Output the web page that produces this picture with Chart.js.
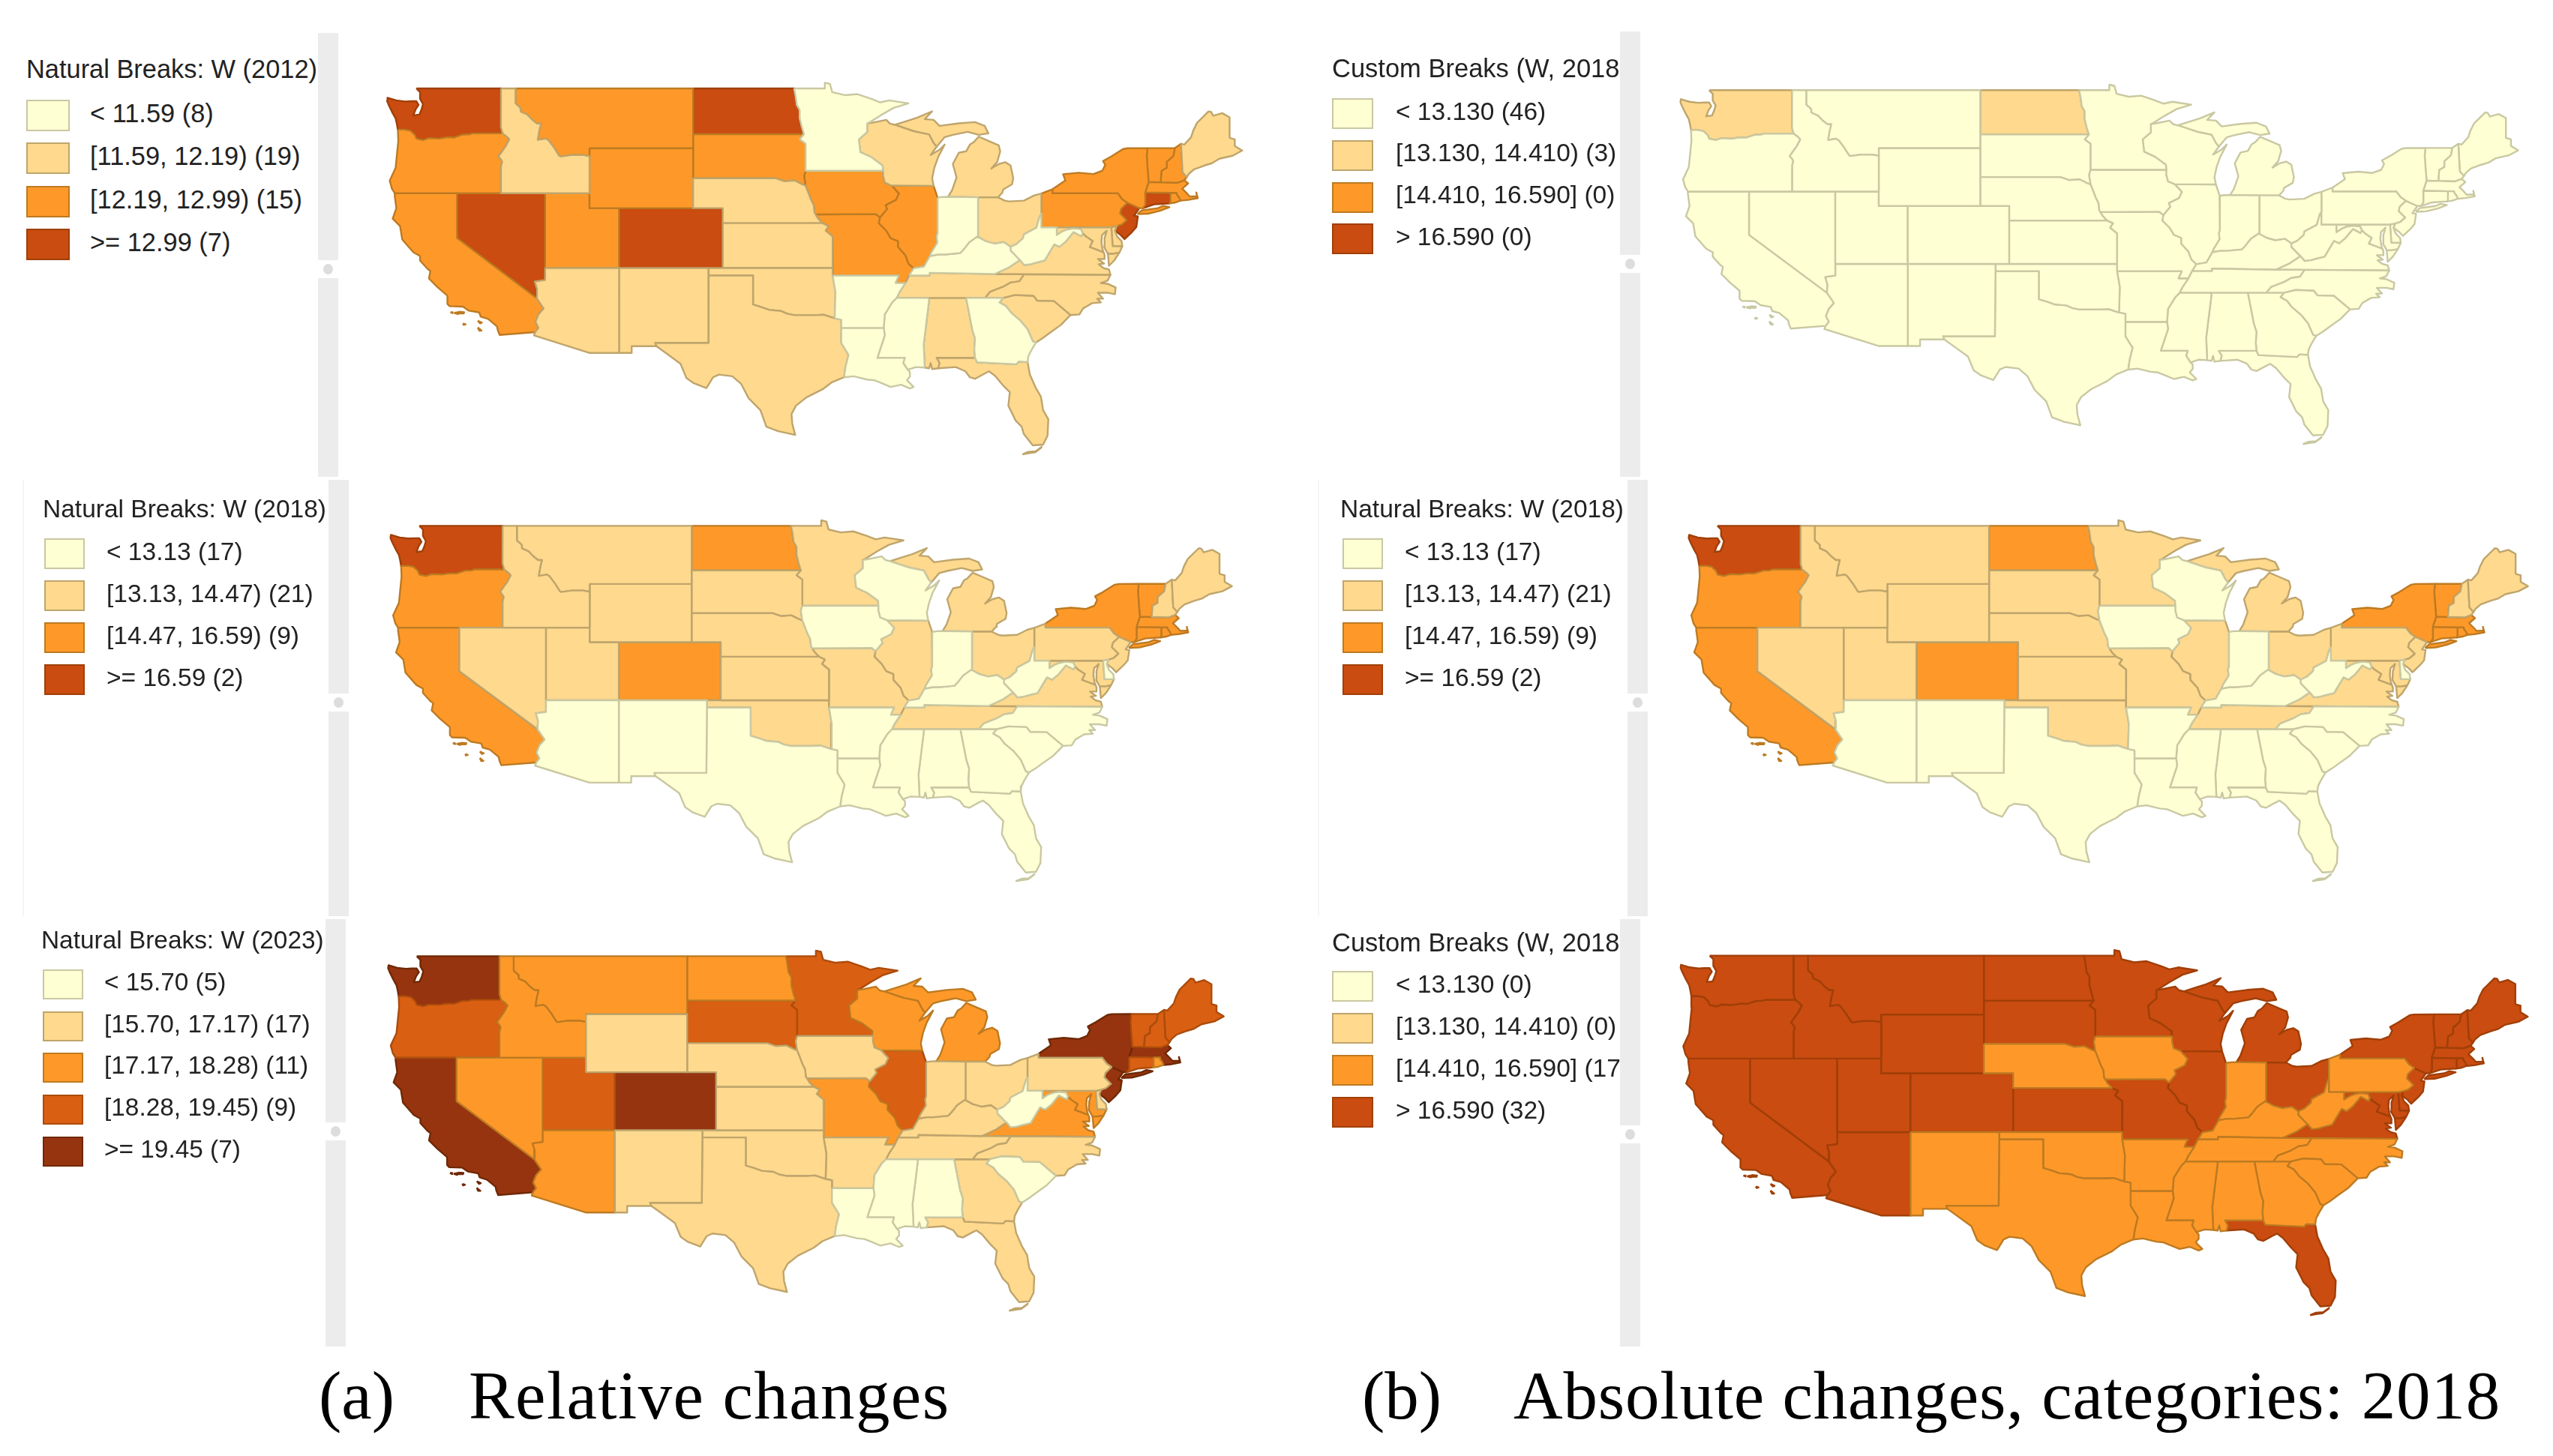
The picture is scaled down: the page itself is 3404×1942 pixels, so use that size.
<!DOCTYPE html>
<html>
<head>
  <title>Natural and custom breaks of W by state</title>
  <script src="https://cdn.jsdelivr.net/npm/chart.js@4.4.2/dist/chart.umd.min.js"></script>
  <style>
    html, body { margin: 0; padding: 0; background: #fff; }
    body { width: 3404px; height: 1942px; position: relative; overflow: hidden; font-family: "Liberation Sans", Arial, sans-serif; color: #222; }
    canvas { position: absolute; }
    .box { position: absolute; overflow: hidden; white-space: nowrap; height: 700px; }
    .title, .label { position: absolute; line-height: 40px; }
    .swatch { position: absolute; box-sizing: border-box; border: 2px solid; }
    .side { position: absolute; background: #ececec; width: 27px; }
    .knob { position: absolute; left: 0; width: 27px; height: 24px; background: #fff; }
    .knob i { position: absolute; left: 7px; top: 5px; width: 13px; height: 14px; border-radius: 50%; background: #ddd; }
    .rule { position: absolute; width: 2px; background: #f5f5f5; }
    .caption { position: absolute; font-family: "Liberation Serif", serif; font-size: 91px; line-height: 100px; color: #000; white-space: nowrap; }
  </style>
</head>
<body>
<script>
// state outlines, lon/lat
const WA = [[-122.75,49],[-117.03,49],[-117.04,46.42],[-116.92,46],[-118.98,46],[-119.15,45.93],[-119.6,45.92],[-120.2,45.72],[-120.65,45.74],[-121.2,45.65],[-121.9,45.68],[-122.3,45.55],[-122.75,45.65],[-122.85,45.9],[-123.15,46.18],[-123.55,46.25],[-124,46.25],[-124.07,46.65],[-124.15,47],[-124.35,47.35],[-124.62,47.9],[-124.73,48.17],[-124.7,48.38],[-124.1,48.2],[-123.5,48.13],[-123.1,48.15],[-122.75,48.15],[-122.6,47.9],[-122.8,47.6],[-122.95,47.2],[-122.55,47.25],[-122.4,47.6],[-122.3,47.95],[-122.5,48.3],[-122.5,48.75],[-122.75,49]];
const OR = [[-124,46.25],[-123.55,46.25],[-123.15,46.18],[-122.85,45.9],[-122.75,45.65],[-122.3,45.55],[-121.9,45.68],[-121.2,45.65],[-120.65,45.74],[-120.2,45.72],[-119.6,45.92],[-119.15,45.93],[-118.98,46],[-116.92,46],[-116.6,45.75],[-116.47,45.6],[-116.7,45.15],[-116.85,44.95],[-117.2,44.45],[-117.03,44.25],[-116.95,44.1],[-117.03,43.8],[-117.03,42],[-124.21,42],[-124.4,42.3],[-124.55,42.84],[-124.15,43.7],[-124.07,44.5],[-123.97,45.5],[-124,46.25]];
const CA = [[-124.21,42],[-120,42],[-120,39],[-114.63,35],[-114.15,34.3],[-114.5,33.9],[-114.7,33.4],[-114.5,33],[-114.72,32.72],[-117.12,32.53],[-117.25,32.85],[-117.3,33.1],[-117.9,33.6],[-118.4,33.75],[-118.5,34.03],[-119.2,34.15],[-119.6,34.42],[-120.5,34.45],[-120.65,34.6],[-120.65,35.15],[-121.3,35.7],[-121.9,36.3],[-121.8,36.8],[-122,36.95],[-122.5,37.5],[-122.5,37.8],[-122.95,38.05],[-123.7,38.9],[-123.85,39.8],[-124.35,40.3],[-124.1,41],[-124.2,41.75],[-124.21,42]];
const CA_MIGUEL = [[-120.45,34.05],[-120.3,34.05],[-120.3,33.98],[-120.45,34.05]];
const CA_ROSA = [[-120.2,34],[-119.95,34.05],[-119.95,33.92],[-120.2,34]];
const CA_CRUZ = [[-119.9,34.08],[-119.52,34.05],[-119.55,33.97],[-119.9,33.97],[-119.9,34.08]];
const CA_NICOLAS = [[-119.6,33.3],[-119.42,33.24],[-119.55,33.2],[-119.6,33.3]];
const CA_CATALINA = [[-118.6,33.48],[-118.32,33.35],[-118.45,33.3],[-118.6,33.48]];
const CA_CLEMENTE = [[-118.6,33.03],[-118.35,32.82],[-118.5,32.82],[-118.6,33.03]];
const ID = [[-117.03,49],[-116.05,49],[-116.05,48],[-115.72,47.7],[-115.7,47.45],[-115.25,47.25],[-114.95,46.93],[-114.6,46.65],[-114.33,46.65],[-114.45,46.15],[-114.55,45.56],[-114,45.65],[-113.8,45.52],[-113.45,45.05],[-113.1,44.5],[-113,44.45],[-112.3,44.55],[-111.5,44.55],[-111.05,44.47],[-111.05,42],[-117.03,42],[-117.03,43.8],[-116.95,44.1],[-117.03,44.25],[-117.2,44.45],[-116.85,44.95],[-116.7,45.15],[-116.47,45.6],[-116.6,45.75],[-116.92,46],[-117.04,46.42],[-117.03,49]];
const MT = [[-116.05,49],[-104.05,49],[-104.05,45],[-111.05,45],[-111.05,44.47],[-111.5,44.55],[-112.3,44.55],[-113,44.45],[-113.1,44.5],[-113.45,45.05],[-113.8,45.52],[-114,45.65],[-114.55,45.56],[-114.45,46.15],[-114.33,46.65],[-114.6,46.65],[-114.95,46.93],[-115.25,47.25],[-115.7,47.45],[-115.72,47.7],[-116.05,48],[-116.05,49]];
const WY = [[-111.05,45],[-104.05,45],[-104.05,41],[-111.05,41],[-111.05,45]];
const ND = [[-104.05,49],[-97.23,49],[-97.13,48.5],[-97.05,47.9],[-96.85,47.55],[-96.85,47],[-96.7,46.4],[-96.56,45.94],[-104.05,45.94],[-104.05,49]];
const SD = [[-104.05,45.94],[-96.56,45.94],[-96.85,45.6],[-96.45,45.3],[-96.45,43.5],[-96.55,43.15],[-96.45,42.5],[-96.7,42.6],[-97.2,42.85],[-97.9,42.8],[-98.5,43],[-104.05,43],[-104.05,45.94]];
const NE = [[-104.05,43],[-98.5,43],[-97.9,42.8],[-97.2,42.85],[-96.7,42.6],[-96.45,42.5],[-96.25,42],[-96.1,41.6],[-95.9,41.2],[-95.85,40.7],[-95.77,40.58],[-95.6,40.3],[-95.31,40],[-102.05,40],[-102.05,41],[-104.05,41],[-104.05,43]];
const KS = [[-102.05,40],[-95.31,40],[-94.9,39.8],[-95.1,39.5],[-94.61,39.1],[-94.62,37],[-102.05,37],[-102.05,40]];
const CO = [[-109.05,41],[-102.05,41],[-102.05,37],[-109.05,37],[-109.05,41]];
const UT = [[-114.05,42],[-111.05,42],[-111.05,41],[-109.05,41],[-109.05,37],[-114.05,37],[-114.05,42]];
const NV = [[-120,42],[-114.05,42],[-114.05,36.2],[-114.75,36.1],[-114.6,35.6],[-114.63,35],[-120,39],[-120,42]];
const AZ = [[-114.05,37],[-109.05,37],[-109.05,31.33],[-111.07,31.33],[-114.8,32.5],[-114.72,32.72],[-114.5,33],[-114.7,33.4],[-114.5,33.9],[-114.15,34.3],[-114.63,35],[-114.6,35.6],[-114.75,36.1],[-114.05,36.2],[-114.05,37]];
const NM = [[-109.05,37],[-103,37],[-103,36.5],[-103.04,32],[-106.62,32],[-106.53,31.78],[-108.2,31.78],[-108.2,31.33],[-109.05,31.33],[-109.05,37]];
const OK = [[-103,37],[-94.62,37],[-94.62,36.5],[-94.43,35.4],[-94.48,33.64],[-95.2,33.88],[-95.8,33.85],[-96.6,33.85],[-97.2,33.85],[-97.7,33.95],[-98.1,34.13],[-98.9,34.2],[-99.4,34.38],[-100,34.56],[-100,36.5],[-103,36.5],[-103,37]];
const TX = [[-103,36.5],[-100,36.5],[-100,34.56],[-99.4,34.38],[-98.9,34.2],[-98.1,34.13],[-97.7,33.95],[-97.2,33.85],[-96.6,33.85],[-95.8,33.85],[-95.2,33.88],[-94.48,33.64],[-94.04,33.55],[-94.04,33],[-94.04,32],[-93.55,31.2],[-93.75,30.4],[-93.85,29.7],[-94.7,29.35],[-95.3,28.9],[-96.4,28.35],[-97.1,27.8],[-97.4,27.25],[-97.35,26.6],[-97.15,25.85],[-97.6,25.95],[-98.3,26.1],[-99.1,26.4],[-99.5,27.5],[-100.3,28.3],[-100.8,29.25],[-101.4,29.77],[-102.3,29.88],[-102.7,29.7],[-103.15,28.98],[-104,29.3],[-104.5,29.65],[-104.9,30.6],[-106,31.4],[-106.53,31.78],[-106.62,32],[-103.04,32],[-103,36.5]];
const MN = [[-97.23,49],[-95.15,49],[-95.15,49.38],[-94.8,49.3],[-94.65,48.75],[-93.8,48.55],[-92.95,48.62],[-92,48.3],[-91.4,48.07],[-90.8,48.2],[-89.5,48],[-90.5,47.7],[-91.3,47.25],[-92.1,46.75],[-92.29,46.66],[-92.29,46.08],[-92.85,45.6],[-92.75,44.75],[-92,44.4],[-91.25,43.85],[-91.22,43.5],[-96.45,43.5],[-96.45,45.3],[-96.85,45.6],[-96.56,45.94],[-96.7,46.4],[-96.85,47],[-96.85,47.55],[-97.05,47.9],[-97.13,48.5],[-97.23,49]];
const WI = [[-92.29,46.66],[-92,46.7],[-91,46.9],[-90.75,46.65],[-90.42,46.57],[-89.1,46.13],[-88.1,45.92],[-87.8,45.35],[-87.6,45.1],[-88,44.55],[-87.4,44.9],[-87.05,45.25],[-87.5,44.4],[-87.75,43.7],[-87.9,43],[-87.8,42.49],[-90.64,42.51],[-91.1,42.7],[-91.2,43.1],[-91.22,43.5],[-91.25,43.85],[-92,44.4],[-92.75,44.75],[-92.85,45.6],[-92.29,46.08],[-92.29,46.66]];
const IA = [[-96.45,43.5],[-91.22,43.5],[-91.2,43.1],[-91.1,42.7],[-90.64,42.51],[-90.15,41.98],[-90.35,41.55],[-91.05,41.2],[-90.95,40.95],[-91.42,40.38],[-91.7,40.6],[-95.77,40.58],[-95.85,40.7],[-95.9,41.2],[-96.1,41.6],[-96.25,42],[-96.45,42.5],[-96.55,43.15],[-96.45,43.5]];
const MO = [[-95.77,40.58],[-91.7,40.6],[-91.42,40.38],[-91.5,40],[-91,39.5],[-90.7,39],[-90.2,38.8],[-90.2,38.4],[-89.7,37.85],[-89.5,37.3],[-89.15,36.98],[-89.45,36.5],[-89.7,36],[-90.37,36],[-90.15,36.5],[-94.62,36.5],[-94.62,37],[-94.61,39.1],[-95.1,39.5],[-94.9,39.8],[-95.31,40],[-95.6,40.3],[-95.77,40.58]];
const AR = [[-94.62,36.5],[-90.15,36.5],[-90.37,36],[-89.7,36],[-90.1,35.4],[-90.3,35],[-90.6,34.7],[-91.1,33.9],[-91.17,33],[-94.04,33],[-94.04,33.55],[-94.48,33.64],[-94.43,35.4],[-94.62,36.5]];
const LA = [[-94.04,33],[-91.17,33],[-91.1,32.5],[-91.6,31],[-89.75,31],[-89.85,30.65],[-89.55,30.2],[-89.4,30.05],[-89.4,29.75],[-89.6,29.5],[-89.15,29.05],[-89.4,28.95],[-90,29.2],[-90.7,29.05],[-91.3,29.3],[-91.8,29.5],[-92.3,29.55],[-93.2,29.77],[-93.85,29.7],[-93.75,30.4],[-93.55,31.2],[-94.04,32],[-94.04,33]];
const MS = [[-90.3,35],[-88.2,35],[-88.1,34.9],[-88.47,31.9],[-88.4,30.35],[-89,30.38],[-89.55,30.2],[-89.85,30.65],[-89.75,31],[-91.6,31],[-91.1,32.5],[-91.17,33],[-91.1,33.9],[-90.6,34.7],[-90.3,35]];
const AL = [[-88.2,35],[-85.6,35],[-85.18,32.85],[-85,32.3],[-85.05,31.55],[-85,31],[-87.6,31],[-87.4,30.65],[-87.5,30.3],[-87.9,30.25],[-88,30.65],[-88.1,30.3],[-88.4,30.35],[-88.47,31.9],[-88.1,34.9],[-88.2,35]];
const GA = [[-85.6,35],[-83.11,35],[-83.35,34.7],[-82.9,34.45],[-82.55,34],[-81.95,33.5],[-81.45,32.9],[-81.1,32.1],[-80.88,32.03],[-81.2,31.5],[-81.4,31.1],[-81.45,30.72],[-82.05,30.75],[-82.2,30.57],[-84.86,30.7],[-85,31],[-85.05,31.55],[-85,32.3],[-85.18,32.85],[-85.6,35]];
const FL = [[-87.6,31],[-85,31],[-84.86,30.7],[-82.2,30.57],[-82.05,30.75],[-81.45,30.72],[-81.3,29.9],[-80.9,29],[-80.55,28.4],[-80.4,27.5],[-80.05,26.9],[-80.1,25.8],[-80.4,25.2],[-81.1,25.15],[-81.7,25.9],[-81.85,26.4],[-82.25,26.8],[-82.75,27.8],[-82.65,28.7],[-83.1,29.15],[-83.65,29.8],[-84.05,30.1],[-84.35,29.95],[-85,29.6],[-85.35,29.7],[-85.65,30.1],[-86.3,30.38],[-87.5,30.3],[-87.4,30.65],[-87.6,31]];
const FL_KEYS = [[-81.8,24.55],[-81.4,24.72],[-80.9,24.75],[-80.5,25.05],[-80.55,24.98],[-80.95,24.68],[-81.4,24.62],[-81.8,24.55]];
const SC = [[-83.11,35],[-82.3,35.2],[-81.05,35.15],[-80.8,34.82],[-79.67,34.8],[-78.55,33.86],[-79.2,33.2],[-79.9,32.7],[-80.45,32.3],[-80.88,32.03],[-81.1,32.1],[-81.45,32.9],[-81.95,33.5],[-82.55,34],[-82.9,34.45],[-83.35,34.7],[-83.11,35]];
const NC = [[-84.32,35],[-83.11,35],[-82.3,35.2],[-81.05,35.15],[-80.8,34.82],[-79.67,34.8],[-78.55,33.86],[-77.95,33.9],[-77.7,34.3],[-77.1,34.65],[-76.5,34.7],[-76.75,34.95],[-76.35,34.95],[-76.7,35.35],[-76.05,35.35],[-75.55,35.25],[-75.5,35.7],[-76.05,35.95],[-76.5,36],[-76.05,36.15],[-75.85,36.55],[-81.68,36.59],[-82,36.12],[-82.6,36.03],[-83.1,35.75],[-84,35.4],[-84.32,35]];
const TN = [[-90.3,35],[-88.2,35],[-85.6,35],[-84.32,35],[-84,35.4],[-83.1,35.75],[-82.6,36.03],[-82,36.12],[-81.68,36.59],[-83.68,36.6],[-88.07,36.68],[-88.07,36.5],[-89.45,36.5],[-89.7,36],[-90.1,35.4],[-90.3,35]];
const KY = [[-89.45,36.5],[-89.15,36.98],[-88.45,37.1],[-88.05,37.8],[-87.5,37.9],[-87.05,37.9],[-86.5,37.95],[-86,38],[-85.75,38.27],[-85.4,38.72],[-84.85,39.1],[-84.3,38.8],[-83.7,38.63],[-83.05,38.73],[-82.6,38.42],[-82.6,38.17],[-82,37.55],[-81.97,37.54],[-82.7,37.05],[-83.68,36.6],[-88.07,36.68],[-88.07,36.5],[-89.45,36.5]];
const IL = [[-90.64,42.51],[-87.8,42.49],[-87.55,41.75],[-87.53,41.7],[-87.53,39.35],[-87.6,39.1],[-87.55,38.7],[-87.95,38.05],[-88.05,37.8],[-88.45,37.1],[-89.15,36.98],[-89.5,37.3],[-89.7,37.85],[-90.2,38.4],[-90.2,38.8],[-90.7,39],[-91,39.5],[-91.5,40],[-91.42,40.38],[-90.95,40.95],[-91.05,41.2],[-90.35,41.55],[-90.15,41.98],[-90.64,42.51]];
const IN = [[-87.53,41.7],[-87.2,41.75],[-86.82,41.76],[-84.8,41.73],[-84.8,39.1],[-84.85,39.1],[-85.4,38.72],[-85.75,38.27],[-86,38],[-86.5,37.95],[-87.05,37.9],[-87.5,37.9],[-88.05,37.8],[-87.95,38.05],[-87.55,38.7],[-87.6,39.1],[-87.53,39.35],[-87.53,41.7]];
const OH = [[-84.8,41.73],[-83.45,41.73],[-83,41.5],[-82.7,41.45],[-81.7,41.5],[-81,41.85],[-80.52,41.98],[-80.52,40.64],[-80.65,40.4],[-80.85,39.7],[-81.7,39.25],[-81.75,39],[-82.2,38.6],[-82.6,38.42],[-83.05,38.73],[-83.7,38.63],[-84.3,38.8],[-84.85,39.1],[-84.8,39.1],[-84.8,41.73]];
const MI_LOWER = [[-86.82,41.76],[-84.8,41.73],[-83.45,41.73],[-83.15,42.05],[-83.1,42.25],[-82.5,42.6],[-82.42,43],[-82.6,43.85],[-82.95,44.07],[-83.4,43.95],[-83.9,43.65],[-83.5,44.1],[-83.3,44.8],[-83.4,45.2],[-84.1,45.5],[-84.75,45.78],[-85.1,45.4],[-85.35,45.25],[-85.6,44.8],[-86.1,44.7],[-86.5,43.95],[-86.25,43.05],[-86.55,42.2],[-86.82,41.76]];
const MI_UPPER = [[-90.42,46.57],[-89.1,46.13],[-88.1,45.92],[-87.8,45.35],[-87.6,45.1],[-87.05,45.75],[-86.5,45.9],[-85.5,46.1],[-84.75,45.9],[-84.1,46],[-84.35,46.5],[-85,46.75],[-86.1,46.67],[-87.4,46.5],[-87.8,46.9],[-88.4,46.95],[-87.9,47.47],[-88.9,47.05],[-89.6,46.83],[-90.42,46.57]];
const PA = [[-80.52,41.98],[-79.76,42.27],[-79.76,42],[-75.35,42],[-75.05,41.6],[-74.7,41.36],[-75.13,40.95],[-75.2,40.65],[-74.75,40.2],[-75.1,39.9],[-75.42,39.8],[-75.79,39.72],[-79.48,39.72],[-80.52,39.72],[-80.52,40.64],[-80.52,41.98]];
const NY = [[-79.76,42.27],[-78.9,42.85],[-79.05,43.27],[-78,43.37],[-77,43.28],[-76.4,43.5],[-76.2,43.9],[-76.35,44.15],[-75.8,44.45],[-75,44.95],[-74.7,45],[-73.35,45.01],[-73.4,44.5],[-73.35,43.75],[-73.27,42.75],[-73.5,42.05],[-73.49,41.25],[-73.65,41],[-73.9,41],[-74.7,41.36],[-75.05,41.6],[-75.35,42],[-79.76,42],[-79.76,42.27]];
const NY_LONG_ISLAND = [[-74.03,40.6],[-73.75,40.85],[-72.65,41],[-72.3,41.15],[-71.87,41.07],[-72.5,40.83],[-73.3,40.63],[-74.03,40.6]];
const NJ = [[-74.7,41.36],[-73.9,41],[-74.25,40.5],[-74,40.45],[-74.1,39.75],[-74.4,39.4],[-74.9,38.93],[-75.15,39.2],[-75.55,39.5],[-75.42,39.8],[-75.1,39.9],[-74.75,40.2],[-75.2,40.65],[-75.13,40.95],[-74.7,41.36]];
const CT = [[-73.5,42.05],[-71.8,42.02],[-71.8,41.42],[-71.86,41.32],[-72.9,41.25],[-73.65,41],[-73.49,41.25],[-73.5,42.05]];
const RI = [[-71.8,42.02],[-71.38,42.02],[-71.35,41.9],[-71.2,41.7],[-71.12,41.5],[-71.5,41.37],[-71.86,41.32],[-71.8,41.42],[-71.8,42.02]];
const MA = [[-73.5,42.05],[-73.27,42.75],[-72.46,42.73],[-71.3,42.7],[-70.85,42.87],[-70.6,42.65],[-71,42.3],[-70.65,41.95],[-70.5,41.78],[-70,41.8],[-70.05,42.05],[-69.95,41.67],[-70.6,41.55],[-71.12,41.5],[-71.2,41.7],[-71.35,41.9],[-71.38,42.02],[-71.8,42.02],[-73.5,42.05]];
const VT = [[-73.35,45.01],[-71.5,45.01],[-71.6,44.5],[-72.05,44.1],[-72.05,43.7],[-72.4,43.5],[-72.46,42.73],[-73.27,42.75],[-73.35,43.75],[-73.4,44.5],[-73.35,45.01]];
const NH = [[-71.5,45.01],[-71.08,45.3],[-70.98,43.4],[-70.7,43.07],[-70.85,42.87],[-71.3,42.7],[-72.46,42.73],[-72.4,43.5],[-72.05,43.7],[-72.05,44.1],[-71.6,44.5],[-71.5,45.01]];
const ME = [[-71.08,45.3],[-70.85,45.25],[-70.4,45.75],[-70.25,46.2],[-70,46.7],[-69.23,47.46],[-69.05,47.43],[-68.9,47.18],[-68.3,47.35],[-67.8,47.07],[-67.8,45.7],[-67.45,45.6],[-67.45,45.15],[-66.95,44.85],[-67.6,44.5],[-68.5,44.3],[-69,44],[-69.5,43.85],[-70.2,43.6],[-70.55,43.3],[-70.7,43.07],[-70.98,43.4],[-71.08,45.3]];
const MD = [[-79.48,39.72],[-75.79,39.72],[-75.7,38.46],[-75.05,38.45],[-75.25,38.03],[-75.65,37.95],[-76.02,37.95],[-76.28,38.4],[-76.25,39],[-76.1,39.5],[-76.42,39.2],[-76.46,38.75],[-76.4,38.3],[-76.32,38.05],[-76.9,38.27],[-77.25,38.4],[-77.05,38.8],[-77.5,39.1],[-77.72,39.32],[-77.85,39.6],[-78.35,39.65],[-78.75,39.58],[-79.1,39.45],[-79.48,39.2],[-79.48,39.72]];
const DE = [[-75.79,39.72],[-75.42,39.8],[-75.55,39.5],[-75.4,39.1],[-75.1,38.8],[-75.05,38.45],[-75.7,38.46],[-75.79,39.72]];
const DC = [[-77.14,38.95],[-77.04,39.03],[-76.89,38.89],[-77.04,38.77],[-77.14,38.95]];
const VA = [[-83.68,36.6],[-81.68,36.59],[-75.85,36.55],[-75.95,36.9],[-76.32,37],[-76.65,37.25],[-76.28,37.3],[-76.7,37.6],[-76.25,37.6],[-76.25,37.9],[-76.32,38.05],[-76.9,38.27],[-77.25,38.4],[-77.05,38.8],[-77.5,39.1],[-77.72,39.32],[-77.83,39.13],[-78.35,39.4],[-78.87,38.77],[-79.3,38.42],[-79.65,38.58],[-80.3,37.5],[-80.9,37.35],[-81.25,37.25],[-81.68,37.2],[-81.97,37.54],[-82.7,37.05],[-83.68,36.6]];
const VA_SHORE = [[-75.25,38.03],[-75.65,37.95],[-76.02,37.95],[-75.95,37.15],[-75.6,37.5],[-75.25,38.03]];
const WV = [[-80.52,40.64],[-80.52,39.72],[-79.48,39.72],[-79.48,39.2],[-79.1,39.45],[-78.75,39.58],[-78.35,39.65],[-77.85,39.6],[-77.72,39.32],[-77.83,39.13],[-78.35,39.4],[-78.87,38.77],[-79.3,38.42],[-79.65,38.58],[-80.3,37.5],[-80.9,37.35],[-81.25,37.25],[-81.68,37.2],[-81.97,37.54],[-82,37.55],[-82.6,38.17],[-82.6,38.42],[-82.2,38.6],[-81.75,39],[-81.7,39.25],[-80.85,39.7],[-80.65,40.4],[-80.52,40.64]];

const stateParts = {
  WA: [WA], OR: [OR], CA: [CA, CA_MIGUEL, CA_ROSA, CA_CRUZ, CA_NICOLAS, CA_CATALINA, CA_CLEMENTE], ID: [ID], MT: [MT], WY: [WY], ND: [ND], SD: [SD], NE: [NE], KS: [KS],
  CO: [CO], UT: [UT], NV: [NV], AZ: [AZ], NM: [NM], OK: [OK], TX: [TX], MN: [MN], WI: [WI], IA: [IA], MO: [MO], AR: [AR], LA: [LA],
  MS: [MS], AL: [AL], GA: [GA], FL: [FL, FL_KEYS], SC: [SC], NC: [NC], TN: [TN], KY: [KY], IL: [IL], IN: [IN], OH: [OH],
  MI: [MI_LOWER, MI_UPPER], PA: [PA], NY: [NY, NY_LONG_ISLAND], NJ: [NJ], CT: [CT], RI: [RI], MA: [MA], VT: [VT], NH: [NH], ME: [ME],
  MD: [MD], DE: [DE], DC: [DC], VA: [VA, VA_SHORE], WV: [WV]
};

// class membership, one list per legend row
const groups2012 = [
  ['MN','IN','KY','WV','AR','LA','MS','GA'],
  ['ID','AZ','NM','TX','OK','KS','NE','WI','MI','OH','VA','NC','SC','TN','AL','FL','ME','MD','DE'],
  ['OR','CA','MT','WY','SD','UT','IA','IL','MO','NY','PA','VT','NH','MA','RI'],
  ['WA','ND','NV','CO','NJ','CT','DC']
];
const groupsCustom2018 = [
  ['OR','CA','ID','MT','WY','SD','NE','KS','CO','UT','NV','AZ','NM','OK','TX','MN','WI','IA','MO','AR','LA','MS','AL','GA','FL','SC','NC','TN','KY','IL','IN','OH','MI','PA','NY','NJ','CT','RI','MA','VT','NH','ME','MD','DE','VA','WV'],
  ['WA','ND','DC'],
  [],
  []
];
const groups2018 = [
  ['WI','IA','IN','KY','WV','AZ','NM','TX','AR','LA','MS','AL','GA','FL','SC','NC','DE'],
  ['ID','MT','WY','UT','NV','SD','NE','KS','MO','OK','MN','IL','MI','OH','PA','VA','TN','ME','NH','MD','NJ'],
  ['OR','CA','ND','CO','NY','VT','MA','CT','RI'],
  ['WA','DC']
];
const groups2023 = [
  ['WV','LA','MS','AL','SC'],
  ['WY','NE','KS','NM','TX','OK','IA','AR','IN','OH','KY','TN','NC','GA','FL','PA','DE'],
  ['ID','MT','ND','NV','AZ','WI','MI','MO','VA','MD','RI'],
  ['OR','UT','SD','MN','IL','ME','NH','VT','CT'],
  ['WA','CA','CO','NY','NJ','MA','DC']
];
const groupsAbsolute = [
  [],
  [],
  ['NM','TX','OK','AR','LA','MS','AL','GA','SC','NC','TN','KY','WV','IN','PA','NE','IA'],
  ['WA','OR','CA','ID','MT','WY','ND','SD','KS','CO','UT','NV','AZ','MN','WI','MO','FL','IL','OH','MI','NY','NJ','CT','RI','MA','VT','NH','ME','MD','DE','DC','VA']
];

// legend text
const labels2012 = ['< 11.59 (8)', '[11.59, 12.19) (19)', '[12.19, 12.99) (15)', '>= 12.99 (7)'];
const labelsCustomTop = ['< 13.130 (46)', '[13.130, 14.410) (3)', '[14.410, 16.590] (0)', '> 16.590 (0)'];
const labels2018 = ['< 13.13 (17)', '[13.13, 14.47) (21)', '[14.47, 16.59) (9)', '>= 16.59 (2)'];
const labels2023 = ['< 15.70 (5)', '[15.70, 17.17) (17)', '[17.17, 18.28) (11)', '[18.28, 19.45) (9)', '>= 19.45 (7)'];
const labelsCustomBottom = ['< 13.130 (0)', '[13.130, 14.410) (0)', '[14.410, 16.590] (17)', '> 16.590 (32)'];

const fill4 = ['#ffffd4', '#fed98e', '#fe9929', '#ca4c10'];
const line4 = ['#c9c8a2', '#bfa56c', '#bd7a22', '#a03f08'];
const fill5 = ['#ffffd4', '#fed98e', '#fe9929', '#d95f12', '#973410'];
const line5 = ['#c9c8a2', '#bfa56c', '#bd7a22', '#ab4c0c', '#6f2803'];

const LON_MIN = -126, LON_MAX = -66, LAT_MIN = 24, LAT_MAX = 50;

const panels = [
  { title: 'Natural Breaks: W (2012)', labels: labels2012, groups: groups2012, fills: fill4, lines: line4, font: 34.4, titleFont: 34.4,
    x0: 516, y0: 118, sx: 19.73, sy: 19.95, titleX: 35, titleY: 92, swX: 35, swW: 58, swY: 133, swH: 42, pitch: 57.3, labelX: 120, sideX: 424, sideTop: 44, sideBottom: 636, knobY: 347, clip: 424 },
  { title: 'Custom Breaks (W, 2018)', labels: labelsCustomTop, groups: groupsCustom2018, fills: fill4, lines: line4, font: 33.5, titleFont: 34.5,
    x0: 2241, y0: 120, sx: 19.33, sy: 19.3, titleX: 1776, titleY: 91, swX: 1776, swW: 55, swY: 131, swH: 41, pitch: 55.8, labelX: 1861, sideX: 2160, sideTop: 42, sideBottom: 636, knobY: 340, clip: 2160 },
  { title: 'Natural Breaks: W (2018)', labels: labels2018, groups: groups2018, fills: fill4, lines: line4, font: 33.5, titleFont: 33.5,
    x0: 521, y0: 701, sx: 19.41, sy: 19.4, titleX: 57, titleY: 679, swX: 59, swW: 54, swY: 718, swH: 41, pitch: 56, labelX: 142, sideX: 438, sideTop: 640, sideBottom: 1222, knobY: 925, clip: 438, ruleX: 30 },
  { title: 'Natural Breaks: W (2018)', labels: labels2018, groups: groups2018, fills: fill4, lines: line4, font: 33.5, titleFont: 33.5,
    x0: 2252, y0: 701, sx: 19.36, sy: 19.4, titleX: 1787, titleY: 679, swX: 1790, swW: 54, swY: 718, swH: 41, pitch: 56, labelX: 1873, sideX: 2170, sideTop: 640, sideBottom: 1222, knobY: 925, clip: 2170, ruleX: 1757 },
  { title: 'Natural Breaks: W (2023)', labels: labels2023, groups: groups2023, fills: fill5, lines: line5, font: 33.4, titleFont: 33.4,
    x0: 517, y0: 1275, sx: 19.29, sy: 19.34, titleX: 55, titleY: 1254, swX: 57, swW: 54, swY: 1293, swH: 40, pitch: 55.7, labelX: 139, sideX: 434, sideTop: 1226, sideBottom: 1796, knobY: 1497, clip: 434 },
  { title: 'Custom Breaks (W, 2018)', labels: labelsCustomBottom, groups: groupsAbsolute, fills: fill4, lines: line4, font: 33.5, titleFont: 34.5,
    x0: 2241, y0: 1275, sx: 19.55, sy: 19.6, titleX: 1776, titleY: 1257, swX: 1776, swW: 55, swY: 1295, swH: 41, pitch: 56, labelX: 1861, sideX: 2160, sideTop: 1226, sideBottom: 1796, knobY: 1501, clip: 2160 }
];

const captions = [
  { text: '(a)', x: 425, y: 1812, spacing: 0 },
  { text: 'Relative changes', x: 625, y: 1812, spacing: 1.4 },
  { text: '(b)', x: 1816, y: 1812, spacing: 0 },
  { text: 'Absolute changes, categories: 2018', x: 2018, y: 1812, spacing: 0.8 }
];

function addDiv(cls, style, text) {
  const d = document.createElement('div');
  d.className = cls;
  Object.assign(d.style, style);
  if (text) d.textContent = text;
  document.body.appendChild(d);
  return d;
}

function drawPanel(p) {
  const canvas = document.createElement('canvas');
  const w = Math.round((LON_MAX - LON_MIN) * p.sx);
  const h = Math.round((LAT_MAX - LAT_MIN) * p.sy);
  canvas.width = w;
  canvas.height = h;
  canvas.style.left = (p.x0 - (-124.73 - LON_MIN) * p.sx) + 'px';
  canvas.style.top = (p.y0 - (LAT_MAX - 49) * p.sy) + 'px';
  canvas.style.width = w + 'px';
  canvas.style.height = h + 'px';
  document.body.appendChild(canvas);

  const datasets = [];
  p.groups.forEach((states, c) => {
    states.forEach(st => {
      stateParts[st].forEach(part => {
        datasets.push({
          label: st,
          data: part.map(pt => ({ x: pt[0], y: pt[1] })),
          showLine: true,
          fill: 'shape',
          backgroundColor: p.fills[c],
          borderColor: p.lines[c],
          borderWidth: 2.4,
          borderJoinStyle: 'round',
          pointRadius: 0,
          tension: 0
        });
      });
    });
  });

  new Chart(canvas, {
    type: 'scatter',
    data: { datasets },
    options: {
      responsive: false,
      animation: false,
      events: [],
      layout: { padding: 0 },
      plugins: { legend: { display: false }, tooltip: { enabled: false }, title: { display: false } },
      scales: {
        x: { type: 'linear', display: false, min: LON_MIN, max: LON_MAX },
        y: { type: 'linear', display: false, min: LAT_MIN, max: LAT_MAX }
      }
    }
  });

  // legend column
  const top = p.titleY - 40;
  const box = addDiv('box', { left: '0px', top: top + 'px', width: p.clip + 'px', fontSize: p.font + 'px' });
  const title = document.createElement('div');
  title.className = 'title';
  title.style.left = p.titleX + 'px';
  title.style.top = '20px';
  title.style.fontSize = p.titleFont + 'px';
  title.textContent = p.title;
  box.appendChild(title);
  p.labels.forEach((lab, i) => {
    const sy = p.swY + i * p.pitch - top;
    const sw = document.createElement('div');
    sw.className = 'swatch';
    Object.assign(sw.style, { left: p.swX + 'px', top: sy + 'px', width: p.swW + 'px', height: p.swH + 'px', background: p.fills[i], borderColor: p.lines[i] });
    box.appendChild(sw);
    const t = document.createElement('div');
    t.className = 'label';
    t.style.left = p.labelX + 'px';
    t.style.top = (sy + p.swH / 2 - 23) + 'px';
    t.textContent = lab;
    box.appendChild(t);
  });

  addDiv('side', { left: p.sideX + 'px', top: p.sideTop + 'px', height: (p.sideBottom - p.sideTop) + 'px' });
  const knob = addDiv('knob', { left: p.sideX + 'px', top: p.knobY + 'px' });
  knob.appendChild(document.createElement('i'));
  if (p.ruleX) addDiv('rule', { left: p.ruleX + 'px', top: p.sideTop + 'px', height: (p.sideBottom - p.sideTop) + 'px' });
}

panels.forEach(drawPanel);
captions.forEach(c => addDiv('caption', { left: c.x + 'px', top: c.y + 'px', letterSpacing: c.spacing + 'px' }, c.text));
</script>
</body>
</html>
